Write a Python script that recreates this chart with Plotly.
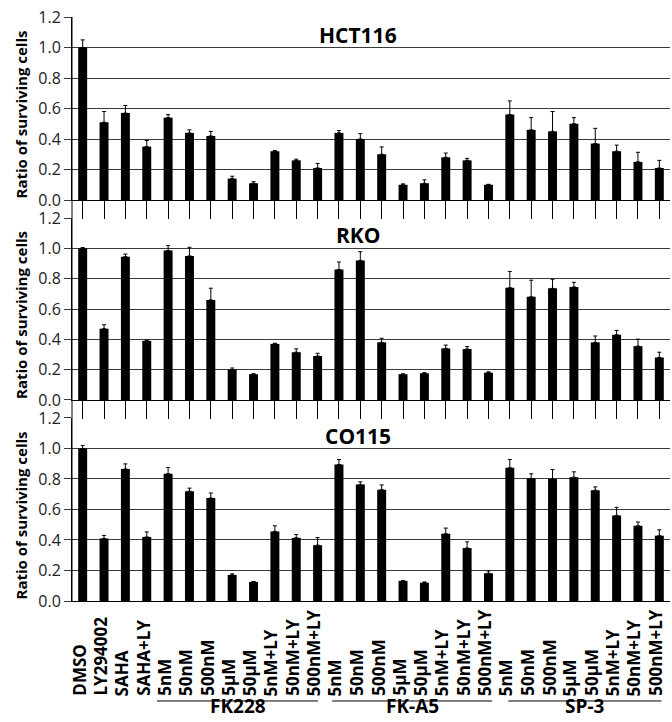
import plotly.graph_objects as go

# ---------------- data ----------------
singles = ["DMSO", "LY294002", "SAHA", "SAHA+LY"]
doses = ["5nM", "50nM", "500nM", "5µM", "50µM", "5nM+LY", "50nM+LY", "500nM+LY"]
groups = ["FK228", "FK-A5", "SP-3"]

tick_labels = singles + doses * 3
keys = singles + [f"{g} {d}" for g in groups for d in doses]

panels = ["HCT116", "RKO", "CO115"]

hct116 = [1.00, 0.51, 0.57, 0.35,
          0.54, 0.44, 0.42, 0.14, 0.11, 0.32, 0.26, 0.21,
          0.44, 0.40, 0.30, 0.10, 0.11, 0.28, 0.26, 0.10,
          0.56, 0.46, 0.45, 0.50, 0.37, 0.32, 0.25, 0.21]
hct116_err = [0.05, 0.07, 0.05, 0.04,
              0.02, 0.02, 0.03, 0.016, 0.01, 0.005, 0.008, 0.03,
              0.015, 0.035, 0.048, 0.006, 0.022, 0.028, 0.013, 0.003,
              0.09, 0.08, 0.13, 0.04, 0.10, 0.04, 0.063, 0.05]

rko = [1.00, 0.47, 0.945, 0.39,
       0.985, 0.95, 0.66, 0.20, 0.17, 0.37, 0.315, 0.29,
       0.86, 0.92, 0.38, 0.17, 0.176, 0.34, 0.336, 0.18,
       0.74, 0.68, 0.736, 0.745, 0.38, 0.43, 0.355, 0.28]
rko_err = [0.005, 0.026, 0.017, 0.006,
           0.033, 0.057, 0.077, 0.011, 0.003, 0.004, 0.022, 0.018,
           0.05, 0.058, 0.027, 0.002, 0.004, 0.022, 0.016, 0.006,
           0.108, 0.11, 0.06, 0.031, 0.042, 0.029, 0.046, 0.035]

co115 = [1.00, 0.41, 0.866, 0.42,
         0.834, 0.72, 0.675, 0.171, 0.125, 0.456, 0.414, 0.366,
         0.895, 0.763, 0.73, 0.132, 0.12, 0.441, 0.347, 0.182,
         0.873, 0.803, 0.80, 0.811, 0.726, 0.561, 0.493, 0.428]
co115_err = [0.02, 0.02, 0.033, 0.033,
             0.041, 0.02, 0.033, 0.007, 0.003, 0.037, 0.022, 0.05,
             0.033, 0.018, 0.031, 0.002, 0.005, 0.037, 0.041, 0.015,
             0.055, 0.031, 0.062, 0.036, 0.022, 0.053, 0.025, 0.039]

values = [hct116, rko, co115]
errors = [hct116_err, rko_err, co115_err]

# ---------------- styling ----------------
FONT = "Open Sans"
n = len(keys)
domains = [[0.6866, 1.0], [0.3442, 0.6558], [0.0, 0.3134]]
grid_col = "#3a3a3a"

fig = go.Figure()
for p in range(3):
    xa = "x" if p == 0 else f"x{p+1}"
    ya = "y" if p == 0 else f"y{p+1}"
    fig.add_trace(go.Bar(
        x=keys, y=values[p], xaxis=xa, yaxis=ya,
        marker=dict(color="black", line=dict(width=0)),
        error_y=dict(type="data", array=errors[p], arrayminus=[0] * n,
                     symmetric=False, color="black", thickness=1, width=2),
        showlegend=False,
    ))

layout = dict(
    width=672, height=722,
    margin=dict(l=72, r=2, t=17, b=121),
    paper_bgcolor="white", plot_bgcolor="white",
    bargap=0.58,
    font=dict(family=FONT, color="black"),
)
for p in range(3):
    sx = "" if p == 0 else str(p + 1)
    layout[f"xaxis{sx}"] = dict(
        domain=[0, 1], anchor=f"y{sx}", type="category",
        categoryorder="array", categoryarray=keys,
        range=[-0.5, n - 0.5],
        showline=True, linecolor="black", linewidth=1,
        showgrid=False, zeroline=False,
        ticks="outside" if p < 2 else "", ticklen=18, tickcolor="black", tickwidth=1,
        showticklabels=False,
    )
    layout[f"yaxis{sx}"] = dict(
        domain=domains[p], anchor=f"x{sx}",
        range=[0, 1.2], dtick=0.2, tick0=0, tickformat=".1f",
        showline=True, linecolor="black", linewidth=1,
        showgrid=True, gridcolor=grid_col, gridwidth=1,
        zeroline=False,
        ticks="outside", ticklen=7, tickcolor=grid_col,
        tickfont=dict(family=FONT, size=16, color="#222"),
    )
fig.update_layout(**layout)

ann = []
# panel titles and y titles
for p in range(3):
    sx = "" if p == 0 else str(p + 1)
    ann.append(dict(text=f"<b>{panels[p]}</b>", xref="paper", yref=f"y{sx}",
                    x=0.479, y=1.085, xanchor="center", yanchor="middle",
                    showarrow=False, font=dict(family=FONT, size=21, color="black")))
    ann.append(dict(text="<b>Ratio of surviving cells</b>", xref="paper", yref="paper",
                    x=-0.0853, y=(domains[p][0] + domains[p][1]) / 2, yshift=-6,
                    xanchor="center", yanchor="middle", textangle=-90,
                    showarrow=False, font=dict(family=FONT, size=15, color="black")))

# category labels
for k, lab in zip(keys, tick_labels):
    ann.append(dict(text=f"<b>{lab}</b>", xref="x3", yref="paper", x=k, y=-0.1627,
                    xanchor="center", yanchor="bottom", textangle=-90, xshift=-4, yshift=-2,
                    showarrow=False, font=dict(family=FONT, size=17, color="black")))

# group lines and labels
group_span = [(-0.52, 0.02), (-0.32, 0.17), (-0.07, 0.1)]
shapes = [dict(type="line", xref="paper", yref="paper", x0=0, x1=0, y0=0, y1=1,
               line=dict(color="black", width=1))]
for gi, g in enumerate(groups):
    first = len(singles) + gi * len(doses)
    last = first + len(doses) - 1
    x0 = first + group_span[gi][0]
    x1 = last + group_span[gi][1]
    px0 = (x0 + 0.5) / n
    px1 = min((x1 + 0.5) / n, 1.0)
    shapes.append(dict(type="line", xref="paper", yref="paper", x0=px0, x1=px1,
                       y0=-0.1712, y1=-0.1712, line=dict(color="black", width=1)))
    ann.append(dict(text=f"<b>{g}</b>", xref="paper", yref="paper",
                    x=(px0 + px1) / 2, y=-0.2055, xanchor="center", yanchor="bottom",
                    showarrow=False, font=dict(family=FONT, size=19, color="black")))

fig.update_layout(annotations=ann, shapes=shapes)
fig.write_html("out.html", config={"displayModeBar": False},
               post_script="document.body.style.margin='0';document.body.style.overflow='hidden';")
